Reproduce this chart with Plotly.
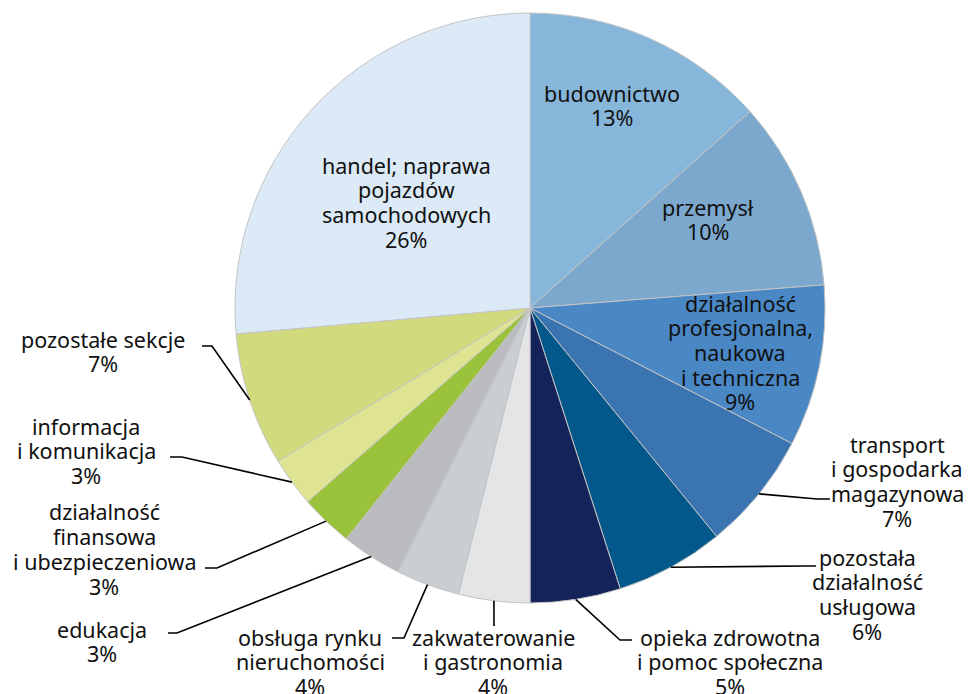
import math
import plotly.graph_objects as go

# ---- data ----
categories = [
    "budownictwo", "przemysł", "działalność profesjonalna, naukowa i techniczna",
    "transport i gospodarka magazynowa", "pozostała działalność usługowa",
    "opieka zdrowotna i pomoc społeczna", "zakwaterowanie i gastronomia",
    "obsługa rynku nieruchomości", "edukacja", "działalność finansowa i ubezpieczeniowa",
    "informacja i komunikacja", "pozostałe sekcje", "handel; naprawa pojazdów samochodowych",
]
shares = [13.4, 10.35, 8.85, 6.5, 5.95, 4.95, 3.9, 3.5, 3.3, 2.9, 2.7, 7.3, 26.4]
shown_pct = [13, 10, 9, 7, 6, 5, 4, 4, 3, 3, 3, 7, 26]
label_lines = [
    ["budownictwo"],
    ["przemysł"],
    ["działalność", "profesjonalna,", "naukowa", "i techniczna"],
    ["transport", "i gospodarka", "magazynowa"],
    ["pozostała", "działalność", "usługowa"],
    ["opieka zdrowotna", "i pomoc społeczna"],
    ["zakwaterowanie", "i gastronomia"],
    ["obsługa rynku", "nieruchomości"],
    ["edukacja"],
    ["działalność", "finansowa", "i ubezpieczeniowa"],
    ["informacja", "i komunikacja"],
    ["pozostałe sekcje"],
    ["handel; naprawa", "pojazdów", "samochodowych"],
]

# ---- styles / layout ----
colors = ["#86B6D9", "#7CA8CE", "#4A88C5", "#3A74B1", "#02588A", "#15235B",
          "#E3E5E6", "#C9CED3", "#BBBCBF", "#9BC23B", "#DFE492", "#D1DB7E", "#DCEAF7"]
W, H = 970, 694
CX, CY, R = 530, 308, 295
LINE_H = 24.7
FONT = dict(family="Noto Sans, Open Sans, sans-serif", size=21.5, color="#111111")

# label first-line centre (px) for each slice
label_pos = [(612, 93), (708, 207), (740, 303), (897, 444), (867, 557), (730, 637),
             (493, 637), (310, 637), (102, 629), (104, 512), (86, 426), (103, 339),
             (406, 165)]
# leader lines: list of (elbow, end) points in px, None for inside labels
leaders = [None, None, None,
           [(817, 499), (830, 499)],
           [(805, 566), (816, 566)],
           [(620, 640), (632, 640)],
           [(494, 626)],
           [(404, 638), (392, 638)],
           [(177, 633), (168, 633)],
           [(217, 568), (205, 568)],
           [(182, 457), (170, 457)],
           [(212, 346), (202, 346)],
           None]


def px(x, y):
    return x / W, 1 - y / H


fig = go.Figure()
fig.add_trace(go.Pie(
    labels=categories, values=shares, sort=False, direction="clockwise", rotation=0,
    marker=dict(colors=colors, line=dict(color="#c4c4c4", width=1)),
    textinfo="none", hoverinfo="label+percent", showlegend=False,
    domain=dict(x=[(CX - R) / W, (CX + R) / W], y=[1 - (CY + R) / H, 1 - (CY - R) / H]),
))

annotations = []
shapes = []
total = sum(shares)
cum = 0.0
for i, v in enumerate(shares):
    mid = (cum + v / 2) / total
    cum += v
    lines = label_lines[i] + [f"{shown_pct[i]}%"]
    cx, y0 = label_pos[i]
    for k, t in enumerate(lines):
        x, y = px(cx, y0 + k * LINE_H)
        annotations.append(dict(x=x, y=y, xref="paper", yref="paper", text=t,
                                showarrow=False, xanchor="center", yanchor="middle",
                                font=FONT))
    if leaders[i]:
        ang = 2 * math.pi * mid
        ex = CX + R * math.sin(ang)
        ey = CY - R * math.cos(ang)
        pts = [(ex, ey)] + leaders[i]
        path = "M " + " L ".join(f"{px(a, b)[0]:.5f},{px(a, b)[1]:.5f}" for a, b in pts)
        shapes.append(dict(type="path", xref="paper", yref="paper", path=path,
                           line=dict(color="#000000", width=1.6)))

fig.update_layout(width=W, height=H, margin=dict(l=0, r=0, t=0, b=0),
                  paper_bgcolor="white", plot_bgcolor="white",
                  annotations=annotations, shapes=shapes)
fig.write_html("out.html", config={"displayModeBar": False},
               post_script="document.body.style.margin='0px';"
                           "document.body.style.overflow='hidden';")
